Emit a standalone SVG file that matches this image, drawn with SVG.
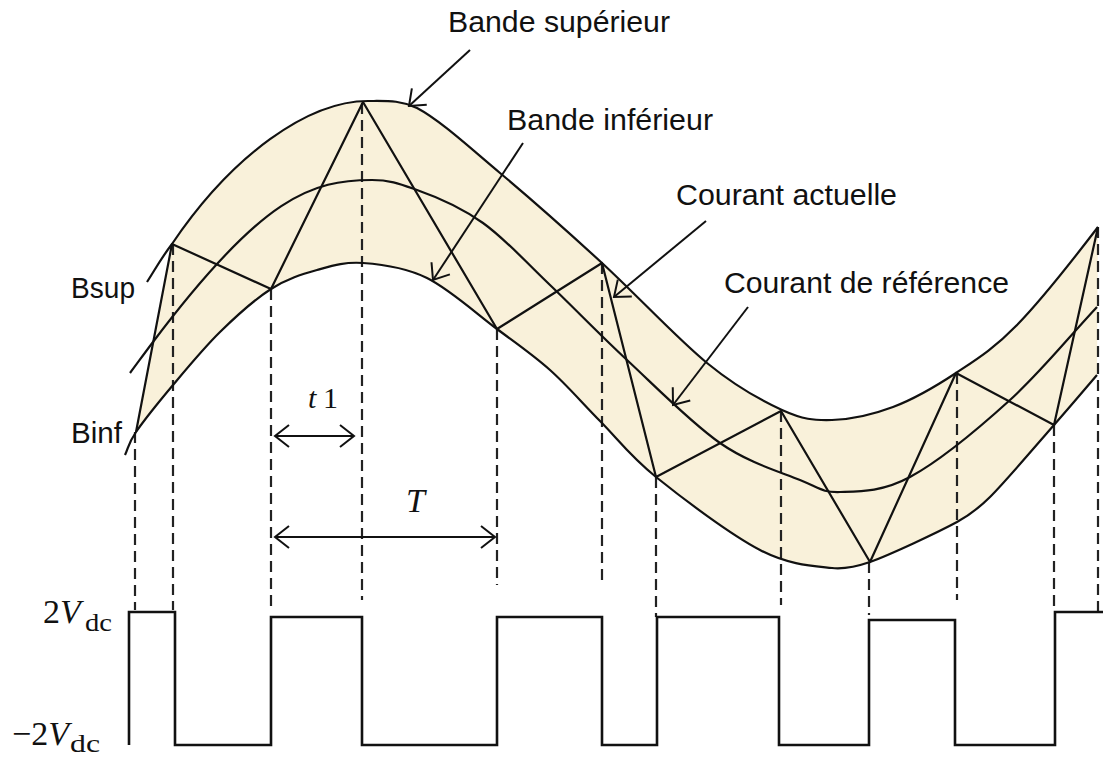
<svg xmlns="http://www.w3.org/2000/svg" width="1103" height="757" viewBox="0 0 1103 757">
<style>
.ln{fill:none;stroke:#111;stroke-width:2.2;stroke-linejoin:round}
.dash{fill:none;stroke:#222;stroke-width:2.2;stroke-dasharray:11,6}
.sq{fill:none;stroke:#111;stroke-width:2.6;stroke-linejoin:miter}
.arr{fill:none;stroke:#111;stroke-width:2}
.lbl{font-family:"Liberation Sans",Arial,sans-serif;font-size:30px;fill:#111}
.math{font-family:"Liberation Serif","DejaVu Serif",serif;fill:#111}
</style>
<defs>
<marker id="ah" markerUnits="userSpaceOnUse" markerWidth="32" markerHeight="32" viewBox="-20 -16 32 32" refX="0" refY="0" orient="auto-start-reverse">
<path d="M-14,-11 L0,0 L-14,11" fill="none" stroke="#111" stroke-width="2"/>
</marker>
</defs>
<rect width="1103" height="757" fill="#fff"/>
<g id="band">
<path fill="#F9F1DA" stroke="none" d="M136,432 L172,244 C232,155.2 308,101 368,101 C388,101 400,100 417,108 C439.8,120 469.2,147.2 500,173 C530.8,198.8 567.5,231.3 602,263 C636.5,294.7 677,338.5 707,363 C737,387.5 761.2,400.5 782,410 C802.8,419.5 813.5,420.5 832,420 C850.5,419.5 872.3,414.8 893,407 C913.7,399.2 935.3,386.7 956,373 C976.7,359.3 993.3,349.3 1017,325 C1040.7,300.7 1071,262.3 1098,227 L1097,375 C1082.7,391.7 1071.8,404.7 1054,425 C1036.2,445.3 1006.2,480.8 990,497 C979,508 968,516 957,522 C937,532.8 890.8,554.3 870,562 C857,566.5 844.7,569.3 832,568 C813.7,566 789.3,565.2 760,550 C730.7,534.8 682.7,498.5 656,477 C629.3,455.5 617.7,438.8 600,421 C582.3,403.2 567.2,385.3 550,370 C532.8,354.7 517.5,344.3 497,329 C476.5,313.7 449.3,289 427,278 C404.7,267 381.3,264.3 363,263 C344.7,261.7 332.3,265.7 317,270 C301.7,274.3 287.2,278.7 271,289 C254.8,299.3 236.3,316 220,332 C203.7,348 187,368.3 173,385 C159,401.7 144,420.3 136,432 Z"/>
</g>
<g id="projections">
<path class="dash" d="M135,432 V610 M173,244 V610 M271,289 V612 M362,103 V600 M497,329 V585 M602,263 V580 M656,477 V617 M781,411 V605 M869,562 V615 M957,373 V600 M1054,425 V612 M1098,227 V612"/>
</g>
<g id="bsup">
<path class="ln" d="M147,282 C155.3,269.3 160.3,259.3 172,244 C232,155.2 308,101 368,101 C388,101 400,100 417,108 C439.8,120 469.2,147.2 500,173 C530.8,198.8 567.5,231.3 602,263 C636.5,294.7 677,338.5 707,363 C737,387.5 761.2,400.5 782,410 C802.8,419.5 813.5,420.5 832,420 C850.5,419.5 872.3,414.8 893,407 C913.7,399.2 935.3,386.7 956,373 C976.7,359.3 993.3,349.3 1017,325 C1040.7,300.7 1071,262.3 1098,227"/>
</g>
<g id="reference">
<path class="ln" d="M130,373 C137.7,362.7 143,355.3 153,342 C263,195.7 312,180 372,180 C390,180 400,184 417,190 C437,197 460.8,207.2 483,223 C505.2,238.8 526,262.2 550,285 C574,307.8 598.7,333.7 627,360 C655.3,386.3 691.2,423 720,443 C748.8,463 780,471.8 800,480 C820,488.2 821.7,492.5 840,492 C858.3,491.5 881.7,492.3 910,477 C938.3,461.7 978.8,428.3 1010,400 C1041.2,371.7 1068,338 1097,307"/>
</g>
<g id="binf">
<path class="ln" d="M125,455 C128.7,447.3 128,443.7 136,432 C144,420.3 159,401.7 173,385 C187,368.3 203.7,348 220,332 C236.3,316 254.8,299.3 271,289 C287.2,278.7 301.7,274.3 317,270 C332.3,265.7 344.7,261.7 363,263 C381.3,264.3 404.7,267 427,278 C449.3,289 476.5,313.7 497,329 C517.5,344.3 532.8,354.7 550,370 C567.2,385.3 582.3,403.2 600,421 C617.7,438.8 629.3,455.5 656,477 C682.7,498.5 730.7,534.8 760,550 C789.3,565.2 813.7,566 832,568 C844.7,569.3 857,566.5 870,562 C890.8,554.3 937,532.8 957,522 C968,516 979,508 990,497 C1006.2,480.8 1036.2,445.3 1054,425 C1071.8,404.7 1082.7,391.7 1097,375"/>
</g>
<g id="actual-current">
<polyline class="ln" points="136,432 172,244 271,289 363,102 497,329 602,263 656,477 781,411 870,562 956,373 1054,425 1098,227"/>
</g>
<g id="square-wave">
<path class="sq" d="M129,745 V612 H175 V745 H271 V617 H362 V745 H497 V617 H602 V745 H657 V617 H779 V745 H869 V620 H955 V745 H1055 V612 H1103"/>
</g>
<g id="connectors">
<line class="arr" x1="470" y1="50" x2="409" y2="106" marker-end="url(#ah)"/>
<line class="arr" x1="523" y1="143" x2="433" y2="280" marker-end="url(#ah)"/>
<line class="arr" x1="706" y1="221" x2="614" y2="297" marker-end="url(#ah)"/>
<line class="arr" x1="748" y1="307" x2="673" y2="405" marker-end="url(#ah)"/>
<line class="arr" x1="275" y1="436" x2="354" y2="436" marker-start="url(#ah)" marker-end="url(#ah)"/>
<line class="arr" x1="275" y1="537" x2="495" y2="537" marker-start="url(#ah)" marker-end="url(#ah)"/>
</g>
<g id="labels">
<text class="lbl" x="448" y="32" textLength="222" lengthAdjust="spacingAndGlyphs">Bande supérieur</text>
<text class="lbl" x="507" y="130" textLength="206" lengthAdjust="spacingAndGlyphs">Bande inférieur</text>
<text class="lbl" x="676" y="205" textLength="221" lengthAdjust="spacingAndGlyphs">Courant actuelle</text>
<text class="lbl" x="724" y="293" textLength="285" lengthAdjust="spacingAndGlyphs">Courant de référence</text>
<text class="lbl" x="71" y="298" textLength="64" lengthAdjust="spacingAndGlyphs">Bsup</text>
<text class="lbl" x="71" y="443" textLength="51" lengthAdjust="spacingAndGlyphs">Binf</text>
<text class="math" x="308" y="408" font-size="30"><tspan font-style="italic">t</tspan><tspan x="323">1</tspan></text>
<text class="math" x="406" y="512" font-size="34" font-style="italic">T</text>
<text class="math" x="43" y="623" font-size="34">2<tspan font-style="italic">V</tspan></text>
<text class="math" x="85" y="631" font-size="25" textLength="27" lengthAdjust="spacingAndGlyphs">dc</text>
<text class="math" x="12" y="745" font-size="34">−2<tspan font-style="italic">V</tspan></text>
<text class="math" x="70" y="752" font-size="25" textLength="30" lengthAdjust="spacingAndGlyphs">dc</text>
</g>
</svg>
